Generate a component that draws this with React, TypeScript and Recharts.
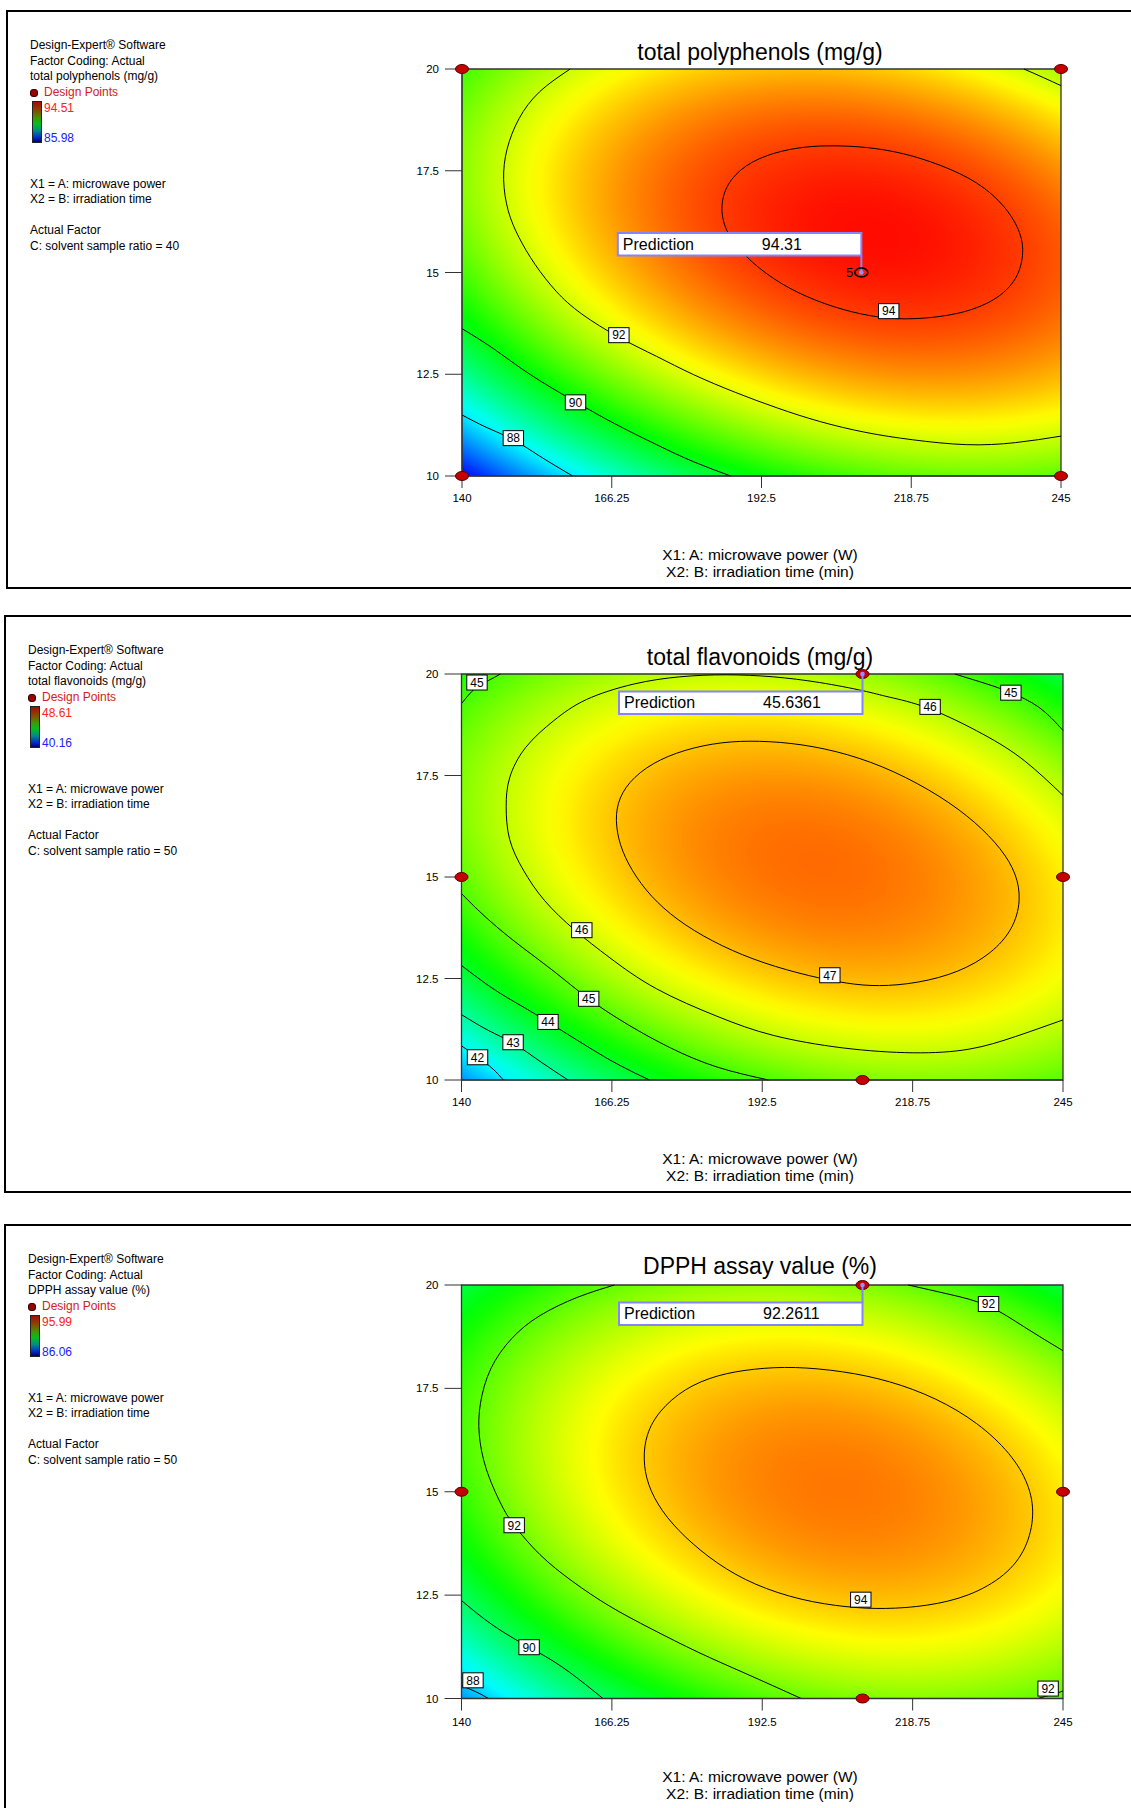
import React from "react";
import { ComposedChart, Line, Scatter, XAxis, YAxis, ReferenceArea } from "recharts";

const FONT = '"Liberation Sans", Arial, Helvetica, sans-serif';

// axes shared by the three plots
const xTicks = [140, 166.25, 192.5, 218.75, 245];
const yTicks = [10, 12.5, 15, 17.5, 20];

type Pair = [number, number];
type Tag = { x: number; y: number; text: string };

// ---- total polyphenols ----
const p1Level94: Pair[] = [
  [185.2, 16.57], [186.3, 17.18], [189.6, 17.65], [194.5, 17.95], [200.2, 18.1], [205.1, 18.12],
  [210.8, 18.09], [217.4, 17.94], [223.9, 17.65], [230.5, 17.23], [235.4, 16.62], [238.1, 15.96],
  [238.5, 15.44], [237.4, 14.83], [233.7, 14.31], [227.2, 13.96], [219.0, 13.84], [213.3, 13.88],
  [206.8, 14.07], [200.2, 14.4], [194.5, 14.83], [189.6, 15.39], [186.3, 15.96],
];
const p1Level92: Pair[] = [
  [158.96, 20], [153.6, 19.44], [150.0, 18.78], [147.9, 18.03], [147.3, 17.28], [148.1, 16.52],
  [150.0, 15.86], [152.8, 15.2], [156.5, 14.54], [161.0, 13.98], [167.5, 13.41], [174.1, 12.94],
  [180.6, 12.49], [188.0, 12.05], [195.3, 11.67], [202.7, 11.34], [210.8, 11.07], [219.0, 10.89],
  [228.4, 10.77], [237.0, 10.82], [245, 10.98],
];
const p1Level92b: Pair[] = [[238.5, 20], [241.9, 19.79], [245, 19.59]];
const p1Level90: Pair[] = [
  [140, 13.62], [145.5, 13.13], [152.0, 12.49], [159.8, 11.83], [166.7, 11.29], [174.1, 10.77],
  [180.6, 10.35], [187.1, 10.0],
];
const p1Level88: Pair[] = [[140, 11.5], [144.2, 11.2], [149.0, 10.89], [153.6, 10.49], [159.4, 10.0]];
const p1Tags: Tag[] = [
  { x: 214.8, y: 14.05, text: "94" },
  { x: 167.5, y: 13.46, text: "92" },
  { x: 159.9, y: 11.81, text: "90" },
  { x: 149.0, y: 10.93, text: "88" },
];
const p1Design = [{ x: 140, y: 20 }, { x: 245, y: 20 }, { x: 140, y: 10 }, { x: 245, y: 10 }];
const p1Prediction = { x: 210, y: 15, value: "94.31" };
const p1Surface = { cx: 211.9, cy: 15.98, a: 155, b: 83, tilt: 11.6, peak: 94.42, k: 0.42, min: 85.98, max: 94.51 };

// ---- total flavonoids ----
const p2Level47: Pair[] = [
  [166.9, 16.26], [167.9, 15.65], [170.4, 14.99], [174.0, 14.37], [178.9, 13.81], [185.4, 13.29],
  [192.7, 12.87], [200.9, 12.55], [207.4, 12.37], [212.7, 12.3], [219.6, 12.38], [226.9, 12.65],
  [232.6, 13.12], [236.3, 13.71], [237.7, 14.42], [236.9, 15.08], [234.3, 15.69], [229.8, 16.35],
  [223.7, 16.99], [215.5, 17.62], [207.4, 18.04], [199.3, 18.28], [191.9, 18.36], [185.4, 18.33],
  [178.9, 18.14], [173.2, 17.81], [169.1, 17.34], [167.1, 16.82],
];
const p2Level46: Pair[] = [
  [245, 17.01], [238.3, 17.86], [231.0, 18.52], [221.6, 19.15], [214.7, 19.43], [210.0, 19.59],
  [202.5, 19.79], [194.4, 19.93], [186.2, 19.98], [178.1, 19.93], [170.0, 19.75], [161.8, 19.37],
  [156.1, 18.85], [151.2, 18.19], [148.4, 17.44], [147.8, 16.73], [148.4, 15.93], [150.8, 15.17],
  [154.5, 14.42], [159.8, 13.69], [165.9, 13.01], [174.0, 12.25], [184.6, 11.57], [194.4, 11.1],
  [206.6, 10.79], [218.8, 10.67], [228.6, 10.76], [236.7, 11.07], [245, 11.48],
];
const p2Level45a: Pair[] = [[140, 19.27], [142.4, 19.65], [144.7, 19.84], [146.8, 20]];
const p2Level45b: Pair[] = [[226.1, 20], [231.8, 19.75], [235.9, 19.54], [240.8, 19.18], [245, 18.61]];
const p2Level45c: Pair[] = [
  [140, 14.59], [144.7, 13.95], [150.4, 13.29], [156.1, 12.68], [162.2, 12.0], [169.1, 11.36],
  [176.5, 10.79], [184.6, 10.32], [193.6, 10.0],
];
const p2Level44: Pair[] = [
  [140, 12.82], [145.5, 12.25], [150.4, 11.83], [155.1, 11.43], [161.8, 10.84], [167.5, 10.37], [172.8, 10.0],
];
const p2Level43: Pair[] = [[140, 11.61], [144.7, 11.22], [149.0, 10.91], [153.7, 10.46], [158.6, 10.0]];
const p2Level42: Pair[] = [[140, 10.84], [142.8, 10.57], [145.5, 10.27], [147.3, 10.0]];
const p2Tags: Tag[] = [
  { x: 142.7, y: 19.79, text: "45" },
  { x: 221.8, y: 19.19, text: "46" },
  { x: 235.9, y: 19.54, text: "45" },
  { x: 161.0, y: 13.69, text: "46" },
  { x: 204.3, y: 12.58, text: "47" },
  { x: 162.2, y: 12.0, text: "45" },
  { x: 155.1, y: 11.43, text: "44" },
  { x: 149.0, y: 10.93, text: "43" },
  { x: 142.8, y: 10.56, text: "42" },
];
const p2Design = [{ x: 210, y: 20 }, { x: 140, y: 15 }, { x: 245, y: 15 }, { x: 210, y: 10 }];
const p2Prediction = { x: 210, y: 20, value: "45.6361" };
const p2Surface = { cx: 202.3, cy: 15.32, a: 207.4, b: 115, tilt: 14.6, peak: 47.73, k: 0.73, min: 40.16, max: 48.61 };

// ---- DPPH assay ----
const p3Level94: Pair[] = [
  [171.7, 15.79], [172.4, 15.19], [174.8, 14.54], [178.9, 13.9], [184.6, 13.25], [191.1, 12.74],
  [199.3, 12.37], [207.4, 12.2], [213.9, 12.16], [221.2, 12.23], [228.6, 12.46], [235.1, 12.97],
  [238.7, 13.62], [240.1, 14.45], [239.1, 15.19], [235.9, 15.93], [230.2, 16.67], [222.9, 17.27],
  [214.7, 17.69], [206.6, 17.92], [198.0, 18.03], [191.1, 17.98], [184.6, 17.83], [178.9, 17.5],
  [174.4, 16.95], [172.2, 16.39],
];
const p3Level92: Pair[] = [
  [166.7, 20], [160.2, 19.7], [153.7, 19.26], [148.8, 18.71], [145.1, 17.97], [143.3, 17.13],
  [143.1, 16.39], [144.3, 15.56], [146.8, 14.73], [149.2, 14.19], [153.7, 13.48], [159.4, 12.83],
  [165.9, 12.23], [173.2, 11.68], [181.3, 11.12], [189.5, 10.61], [199.3, 10.0],
];
const p3Level92b: Pair[] = [[218.0, 20], [225.3, 19.77], [232.0, 19.49], [238.3, 18.98], [245, 18.41]];
const p3Level92c: Pair[] = [[240.6, 10.0], [243.2, 10.1], [245, 10.18]];
const p3Level90: Pair[] = [[140, 12.37], [145.5, 11.77], [151.8, 11.24], [157.7, 10.75], [164.7, 10.0]];
const p3Level88: Pair[] = [[140, 10.31], [142.7, 10.15], [144.7, 10.0]];
const p3Tags: Tag[] = [
  { x: 232.0, y: 19.54, text: "92" },
  { x: 149.2, y: 14.19, text: "92" },
  { x: 209.7, y: 12.39, text: "94" },
  { x: 151.8, y: 11.24, text: "90" },
  { x: 142.0, y: 10.44, text: "88" },
  { x: 242.4, y: 10.24, text: "92" },
];
const p3Design = [{ x: 210, y: 20 }, { x: 140, y: 15 }, { x: 245, y: 15 }, { x: 210, y: 10 }];
const p3Prediction = { x: 210, y: 20, value: "92.2611" };
const p3Surface = { cx: 205.9, cy: 15.09, a: 198.9, b: 116.4, tilt: 12.45, peak: 94.84, k: 0.8386, min: 86.06, max: 95.99 };

const toPts = (a: Pair[]) => a.map(([x, y]) => ({ x, y }));

const panels = [
  {
    id: "tp",
    title: "total polyphenols (mg/g)",
    hi: "94.51",
    lo: "85.98",
    ratio: 40,
    box: { left: 6, top: 10, bottom: 589 },
    plot: { L: 462, R: 1061, T: 69, B: 476 },
    xGap: 6,
    contours: [
      { pts: p1Level94, closed: true },
      { pts: p1Level92 },
      { pts: p1Level92b },
      { pts: p1Level90 },
      { pts: p1Level88 },
    ],
    tags: p1Tags,
    design: p1Design,
    prediction: p1Prediction,
    predAbove: true,
    replicate: "5",
    surface: p1Surface,
  },
  {
    id: "tf",
    title: "total flavonoids (mg/g)",
    hi: "48.61",
    lo: "40.16",
    ratio: 50,
    box: { left: 4, top: 615, bottom: 1193 },
    plot: { L: 461.5, R: 1063, T: 674, B: 1080 },
    xGap: 6,
    contours: [
      { pts: p2Level47, closed: true },
      { pts: p2Level46 },
      { pts: p2Level45a },
      { pts: p2Level45b },
      { pts: p2Level45c },
      { pts: p2Level44 },
      { pts: p2Level43 },
      { pts: p2Level42 },
    ],
    tags: p2Tags,
    design: p2Design,
    prediction: p2Prediction,
    predAbove: false,
    replicate: "",
    surface: p2Surface,
  },
  {
    id: "dp",
    title: "DPPH assay value (%)",
    hi: "95.99",
    lo: "86.06",
    ratio: 50,
    box: { left: 4, top: 1224, bottom: 1840 },
    plot: { L: 461.5, R: 1063, T: 1284.5, B: 1698 },
    xGap: 7,
    contours: [
      { pts: p3Level94, closed: true },
      { pts: p3Level92 },
      { pts: p3Level92b },
      { pts: p3Level92c },
      { pts: p3Level90 },
      { pts: p3Level88 },
    ],
    tags: p3Tags,
    design: p3Design,
    prediction: p3Prediction,
    predAbove: false,
    replicate: "",
    surface: p3Surface,
  },
];

// Design-Expert style colour ramp: blue -> cyan -> green -> yellow -> red
const ramp: [number, number[]][] = [
  [0, [0, 0, 255]],
  [0.25, [0, 255, 255]],
  [0.5, [0, 255, 0]],
  [0.75, [255, 255, 0]],
  [1, [255, 0, 0]],
];
function rampColor(t: number) {
  const v = Math.max(0, Math.min(1, t));
  for (let i = 1; i < ramp.length; i++) {
    const [t1, c1] = ramp[i];
    const [t0, c0] = ramp[i - 1];
    if (v <= t1) {
      const f = (v - t0) / (t1 - t0);
      const c = c0.map((a, j) => Math.round(a + (c1[j] - a) * f));
      return `rgb(${c[0]},${c[1]},${c[2]})`;
    }
  }
  return "rgb(255,0,0)";
}

const RMAX = 5;
function HeatGradient({ id, s, w, h }: { id: string; s: typeof p1Surface; w: number; h: number }) {
  const th = (s.tilt * Math.PI) / 180;
  const m = [
    (RMAX * s.a * Math.cos(th)) / w,
    (RMAX * s.a * Math.sin(th)) / h,
    (-RMAX * s.b * Math.sin(th)) / w,
    (RMAX * s.b * Math.cos(th)) / h,
    (s.cx - 140) / 105,
    (20 - s.cy) / 10,
  ];
  const stops = [];
  const n = 60;
  for (let i = 0; i <= n; i++) {
    const r = (i / n) * RMAX;
    const val = s.peak - s.k * r * r;
    stops.push(<stop key={i} offset={i / n} stopColor={rampColor((val - s.min) / (s.max - s.min))} />);
  }
  return (
    <radialGradient id={id} cx="0" cy="0" r="1" fx="0" fy="0" gradientTransform={`matrix(${m.join(" ")})`}>
      {stops}
    </radialGradient>
  );
}

function TagBox(props: any) {
  const { cx, cy } = props;
  const text: string = props.payload?.text ?? props.text ?? "";
  const w = text.length * 6.7 + 7;
  return (
    <g>
      <rect x={cx - w / 2} y={cy - 7.5} width={w} height={15} fill="#fff" stroke="#000" strokeWidth={1} />
      <text x={cx} y={cy + 4.3} textAnchor="middle" fontSize={12} fontFamily={FONT} fill="#000">
        {text}
      </text>
    </g>
  );
}

function DesignDot(props: any) {
  const { cx, cy } = props;
  return <ellipse cx={cx} cy={cy} rx={6.5} ry={4.5} fill="#c40000" stroke="#5a0000" strokeWidth={1} />;
}

function makePredictionShape(p: (typeof panels)[number]) {
  return (props: any) => {
    const { cx, cy } = props;
    const w = 243.5;
    const h = 22.5;
    const top = p.predAbove ? cy - 17 - h : cy + 17.5;
    const end = p.predAbove ? top + h : top;
    return (
      <g>
        <line x1={cx} y1={cy} x2={cx} y2={end} stroke="#8484ff" strokeWidth={2} />
        <rect x={cx - w} y={top} width={w} height={h} fill="#fff" stroke="#8484ff" strokeWidth={2} />
        <text x={cx - w + 5} y={top + 16.8} fontSize={16} fontFamily={FONT} fill="#000">
          Prediction
        </text>
        <text x={cx - w + 144} y={top + 16.8} fontSize={16} fontFamily={FONT} fill="#000">
          {p.prediction.value}
        </text>
        {p.replicate ? (
          <g>
            <ellipse cx={cx} cy={cy} rx={6.5} ry={4.5} fill="none" stroke="#000" strokeWidth={1.6} />
            <text x={cx - 8} y={cy + 4.7} textAnchor="end" fontSize={13} fontFamily={FONT} fill="#000">
              {p.replicate}
            </text>
          </g>
        ) : null}
        <circle cx={cx} cy={cy} r={2.3} fill="#9090ff" />
      </g>
    );
  };
}

function Info({ p }: { p: (typeof panels)[number] }) {
  const left = p.box.left + 24;
  const top = p.box.top;
  const row = (text: string, c: number, color = "#000", dx = 0) => (
    <div
      style={{
        position: "absolute",
        left: left + dx,
        top: top + c - 8,
        height: 16,
        lineHeight: "16px",
        fontSize: 12,
        color,
        whiteSpace: "nowrap",
      }}
    >
      {text}
    </div>
  );
  return (
    <>
      {row("Design-Expert® Software", 35)}
      {row("Factor Coding: Actual", 50.5)}
      {row(p.title, 66)}
      <div
        style={{
          position: "absolute",
          left: left,
          top: top + 79,
          width: 6,
          height: 6,
          borderRadius: 3,
          background: "#9a0000",
          border: "0.5px solid #300",
        }}
      />
      {row("Design Points", 81.5, "#d42020", 14)}
      <div
        style={{
          position: "absolute",
          left: left + 2,
          top: top + 91,
          width: 8,
          height: 40,
          border: "0.5px solid #222",
          background: "linear-gradient(#a01000 0%, #8a4a00 22%, #3e9a00 40%, #00c020 55%, #008a8a 72%, #0030c8 88%, #00007a 100%)",
        }}
      />
      {row(p.hi, 98, "#ff2020", 14)}
      {row(p.lo, 128, "#2020ff", 14)}
      {row("X1 = A: microwave power", 174)}
      {row("X2 = B: irradiation time", 189)}
      {row("Actual Factor", 220)}
      {row(`C: solvent sample ratio = ${p.ratio}`, 235.5)}
    </>
  );
}

function Panel({ p }: { p: (typeof panels)[number] }) {
  const { L, R, T, B } = p.plot;
  const chartLeft = 400;
  const mTop = 10;
  const xAxisH = 45;
  const width = 1131 - chartLeft;
  const height = B - T + mTop + xAxisH;
  const gid = `heat-${p.id}`;
  const cxTitle = 760;
  const tickStyle = { fill: "#000", fontSize: 11.5, fontFamily: FONT };
  return (
    <>
      <div
        style={{
          position: "absolute",
          left: p.box.left,
          top: p.box.top,
          width: 1200,
          height: p.box.bottom - p.box.top,
          border: "2px solid #000",
          boxSizing: "border-box",
        }}
      />
      <Info p={p} />
      <div
        style={{
          position: "absolute",
          left: cxTitle - 200,
          width: 400,
          top: p.box.top + 50.5 - 19.5,
          textAlign: "center",
          fontSize: 23,
          lineHeight: "23px",
          whiteSpace: "nowrap",
        }}
      >
        {p.title.replace(/^DPPH assay value \(%\)$/, "DPPH assay value (%)")}
      </div>
      <div style={{ position: "absolute", left: chartLeft, top: T - mTop }}>
        <ComposedChart width={width} height={height} margin={{ top: mTop, right: 1131 - R, bottom: 0, left: 0 }}>
          <defs>
            <HeatGradient id={gid} s={p.surface} w={R - L} h={B - T} />
          </defs>
          <XAxis
            type="number"
            dataKey="x"
            domain={[140, 245]}
            ticks={xTicks}
            interval={0}
            height={xAxisH}
            tickSize={12}
            tickMargin={p.xGap}
            tick={tickStyle}
            stroke="#333"
          />
          <YAxis
            type="number"
            dataKey="y"
            domain={[10, 20]}
            ticks={yTicks}
            interval={0}
            width={L - chartLeft}
            tickSize={17}
            tickMargin={6}
            tick={tickStyle}
            stroke="#333"
          />
          <ReferenceArea x1={140} x2={245} y1={10} y2={20} fill={`url(#${gid})`} fillOpacity={1} stroke="#333" strokeWidth={1.3} />
          {p.contours.map((c, i) => (
            <Line
              key={i}
              data={toPts(c.pts)}
              dataKey="y"
              type={c.closed ? "basisClosed" : "natural"}
              stroke="#000"
              strokeWidth={1}
              dot={false}
              activeDot={false}
              legendType="none"
              isAnimationActive={false}
            />
          ))}
          <Scatter data={p.tags} shape={TagBox} isAnimationActive={false} legendType="none" />
          <Scatter data={p.design} shape={DesignDot} isAnimationActive={false} legendType="none" />
          <Scatter data={[p.prediction]} shape={makePredictionShape(p)} isAnimationActive={false} legendType="none" />
        </ComposedChart>
      </div>
      <div
        style={{
          position: "absolute",
          left: cxTitle - 200,
          width: 400,
          top: B + 84 - 13.1,
          textAlign: "center",
          fontSize: 15.5,
          lineHeight: "15.5px",
          whiteSpace: "nowrap",
        }}
      >
        X1: A: microwave power (W)
      </div>
      <div
        style={{
          position: "absolute",
          left: cxTitle - 200,
          width: 400,
          top: B + 101 - 13.1,
          textAlign: "center",
          fontSize: 15.5,
          lineHeight: "15.5px",
          whiteSpace: "nowrap",
        }}
      >
        X2: B: irradiation time (min)
      </div>
    </>
  );
}

export default function App() {
  return (
    <div
      style={{
        position: "absolute",
        left: 0,
        top: 0,
        width: 1131,
        height: 1808,
        overflow: "hidden",
        background: "#fff",
        fontFamily: FONT,
        color: "#000",
      }}
    >
      {panels.map((p) => (
        <Panel key={p.id} p={p} />
      ))}
    </div>
  );
}
